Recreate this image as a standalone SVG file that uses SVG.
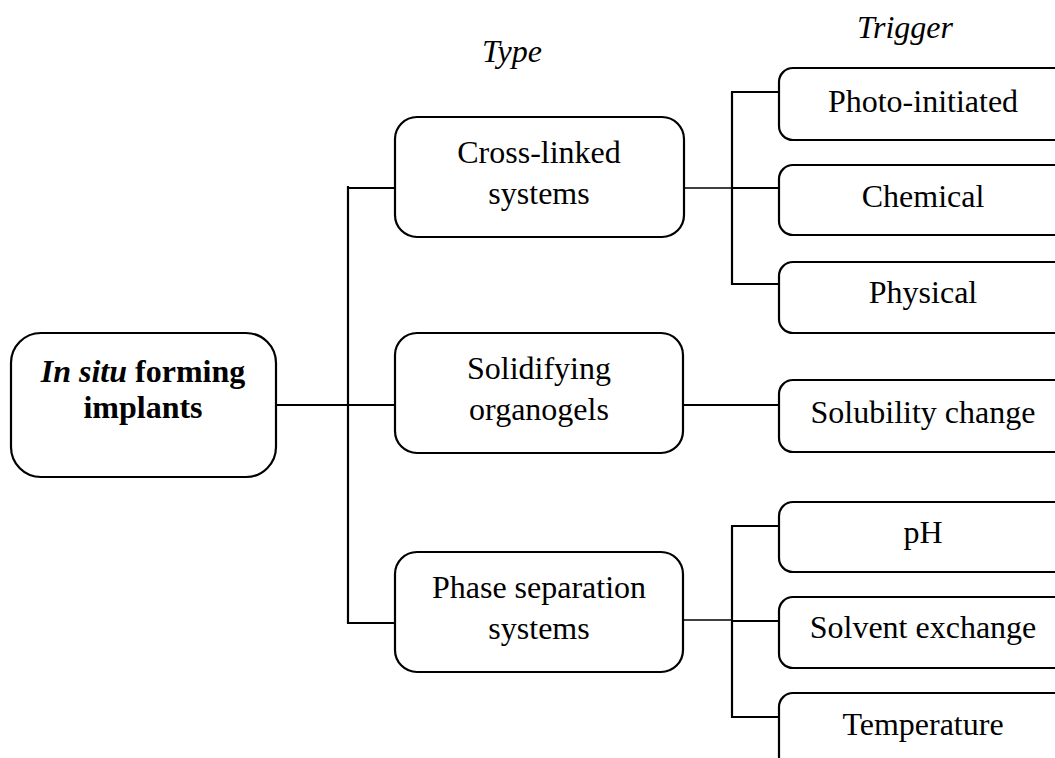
<svg xmlns="http://www.w3.org/2000/svg" width="1055" height="758" viewBox="0 0 1055 758">
<style>
.box{fill:#fff;stroke:#000;stroke-width:2.2}
.ln{stroke:#000;stroke-width:2.2;fill:none}
.thin{stroke:#000;stroke-width:1.6;fill:none}
text{font-family:"Liberation Serif","Times New Roman",serif;font-size:32px;fill:#000;text-anchor:middle}
.it{font-style:italic}
.b{font-weight:bold}
</style>
<rect width="1055" height="758" fill="#fff"/>
<g id="connectors">
<line class="ln" x1="348" y1="186" x2="348" y2="624"/>
<line class="ln" x1="276" y1="405" x2="396" y2="405"/>
<line class="ln" x1="347" y1="188" x2="401" y2="188"/>
<line class="ln" x1="347" y1="623" x2="401" y2="623"/>
<line class="thin" x1="684" y1="188" x2="732" y2="188"/>
<line class="ln" x1="732" y1="92" x2="732" y2="285"/>
<line class="ln" x1="731" y1="92" x2="783" y2="92"/>
<line class="ln" x1="731" y1="188" x2="783" y2="188"/>
<line class="ln" x1="731" y1="284" x2="783" y2="284"/>
<line class="ln" x1="683" y1="405" x2="779" y2="405"/>
<line class="thin" x1="684" y1="620" x2="732" y2="620"/>
<line class="ln" x1="732" y1="526" x2="732" y2="718"/>
<line class="ln" x1="731" y1="526" x2="783" y2="526"/>
<line class="ln" x1="731" y1="621" x2="783" y2="621"/>
<line class="ln" x1="731" y1="717" x2="783" y2="717"/>
</g>
<text class="it" x="512" y="62">Type</text>
<text class="it" x="905" y="38">Trigger</text>
<g id="root">
<rect class="box" x="11" y="333" width="265" height="144" rx="30"/>
<text x="143" y="382"><tspan class="it b">In situ</tspan><tspan class="b"> forming</tspan></text>
<text class="b" x="143" y="418">implants</text>
</g>
<g id="crosslinked">
<rect class="box" x="395" y="117" width="289" height="120" rx="22"/>
<text x="539" y="163">Cross-linked</text>
<text x="539" y="204">systems</text>
</g>
<g id="organogels">
<rect class="box" x="395" y="333" width="288" height="120" rx="22"/>
<text x="539" y="379">Solidifying</text>
<text x="539" y="420">organogels</text>
</g>
<g id="phasesep">
<rect class="box" x="395" y="552" width="288" height="120" rx="22"/>
<text x="539" y="598">Phase separation</text>
<text x="539" y="639">systems</text>
</g>
<g id="photo">
<rect class="box" x="779" y="68" width="300" height="72" rx="14"/>
<text x="923" y="112">Photo-initiated</text>
</g>
<g id="chemical">
<rect class="box" x="779" y="165" width="300" height="70" rx="14"/>
<text x="923" y="207">Chemical</text>
</g>
<g id="physical">
<rect class="box" x="779" y="262" width="300" height="71" rx="14"/>
<text x="923" y="303">Physical</text>
</g>
<g id="solubility">
<rect class="box" x="779" y="380" width="300" height="72" rx="14"/>
<text x="923" y="423">Solubility change</text>
</g>
<g id="ph">
<rect class="box" x="779" y="502" width="300" height="70" rx="14"/>
<text x="923" y="543">pH</text>
</g>
<g id="solvent">
<rect class="box" x="779" y="597" width="300" height="71" rx="14"/>
<text x="923" y="638">Solvent exchange</text>
</g>
<g id="temperature">
<rect class="box" x="779" y="693" width="300" height="100" rx="14"/>
<text x="923" y="735">Temperature</text>
</g>
</svg>
